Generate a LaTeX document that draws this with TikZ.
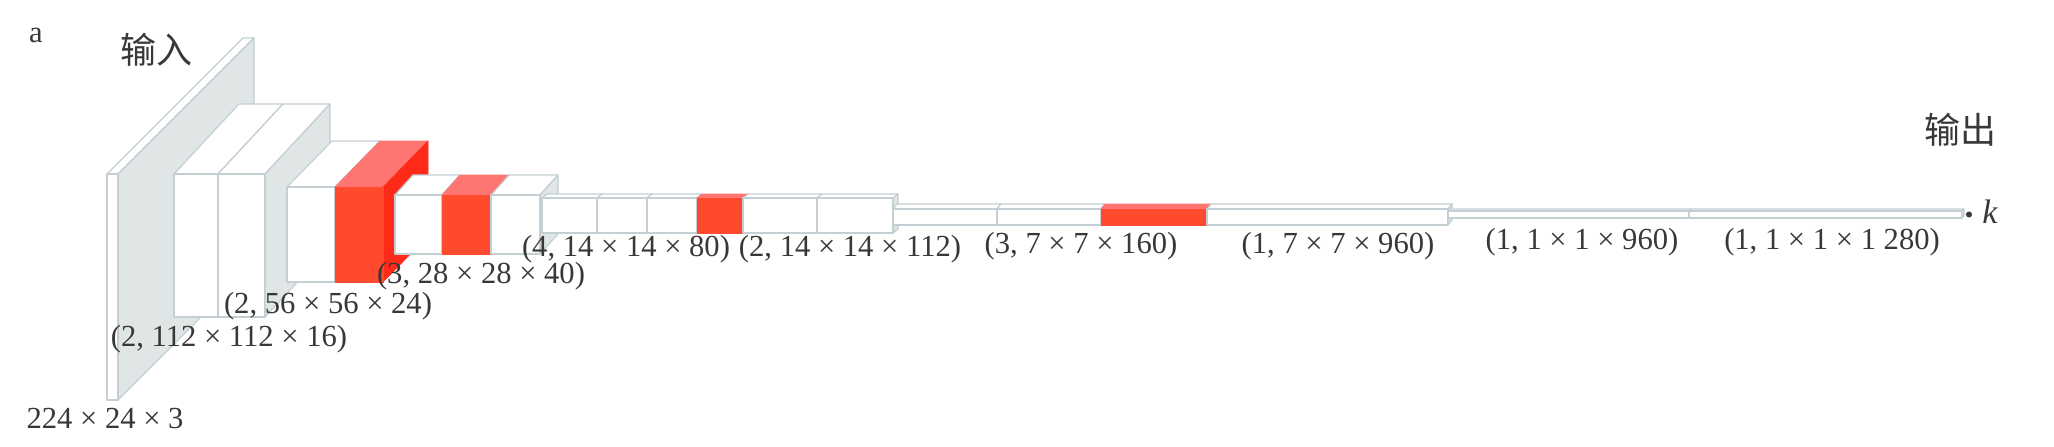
\documentclass[tikz,border=0pt]{standalone}
\usepackage{fontspec}
\setmainfont{Liberation Serif}
\newfontfamily\cjkfont{Noto Sans CJK SC}
\usetikzlibrary{arrows.meta}
\definecolor{edgec}{HTML}{C3CFD3}
\definecolor{sidec}{HTML}{E0E5E6}
\definecolor{redf}{HTML}{FF4A2D}
\definecolor{redt}{HTML}{FF7572}
\definecolor{reds}{HTML}{FF2B18}
\definecolor{txt}{HTML}{383838}
\tikzset{
  wtop/.style={fill=white, draw=edgec, line width=0.6pt, line join=round},
  wside/.style={fill=sidec, draw=edgec, line width=0.6pt, line join=round},
  wfront/.style={fill=white, draw=edgec, line width=0.6pt, line join=round},
  rtop/.style={fill=redt, draw=redt, line width=0.3pt},
  rside/.style={fill=reds, draw=reds, line width=0.3pt},
  rfront/.style={fill=redf, draw=redf, line width=0.3pt},
  lbl/.style={font=\fontsize{15.3}{18}\selectfont, text=txt, inner sep=0pt},
  cjk/.style={font=\cjkfont\fontsize{18}{20}\selectfont, text=txt, inner sep=0pt},
  kdot/.style={circle, fill=txt, inner sep=0pt, minimum size=3pt},
}
% #1 x-left, #2 x-right, #3 y-top, #4 y-bottom (px, downwards), #5 dx, #6 dy, #7 kind (w or r)
\newcommand{\blk}[7]{%
  \filldraw[#7top] (#1,#3) -- (#1+#5,#3-#6) -- (#2+#5,#3-#6) -- (#2,#3) -- cycle;
  \filldraw[#7side] (#2,#3) -- (#2+#5,#3-#6) -- (#2+#5,#4-#6) -- (#2,#4) -- cycle;
  \filldraw[#7front] (#1,#3) rectangle (#2,#4);}
\begin{document}
\begin{tikzpicture}[x=0.5pt,y=-0.5pt]
\useasboundingbox (0,0) rectangle (2054,446);
% input plate
\blk{107}{118}{174}{400}{136}{136}{w}
% block 1
\blk{174}{218}{174}{317}{65}{70}{w}
\blk{218}{265}{174}{317}{65}{70}{w}
% block 2
\blk{287}{335}{187}{282}{45}{46}{w}
\blk{335}{383}{187}{282}{45}{46}{r}
% block 3
\blk{395}{442}{195}{254}{18}{20}{w}
\blk{442}{491}{195}{254}{18}{20}{r}
\blk{491}{540}{195}{254}{18}{20}{w}
% block 4
\blk{542}{597}{198}{233}{5}{4}{w}
\blk{597}{647}{198}{233}{5}{4}{w}
\blk{647}{697}{198}{233}{5}{4}{w}
\blk{697}{743}{198}{233}{5}{4}{r}
% block 5
\blk{743}{817}{198}{233}{5}{4}{w}
\blk{817}{893}{198}{233}{5}{4}{w}
% block 6
\blk{893}{997}{209}{225}{4}{5}{w}
\blk{997}{1101}{209}{225}{4}{5}{w}
\blk{1101}{1207}{209}{225}{4}{5}{r}
% block 7
\blk{1207}{1448}{209}{225}{4}{5}{w}
% blocks 8, 9
\blk{1448}{1689}{211}{218}{2}{2}{w}
\blk{1689}{1962}{211}{218}{2}{2}{w}
% end of the chain
\coordinate (barend) at (1962,214.5);
\node[kdot] (dot) at (1969,214.5) {};
\draw[edgec, line width=0.6pt] (barend) -- (dot);
% labels
\node[lbl] (l0) at (105,419) {224 × 24 × 3};
\node[lbl] (l1) at (229,339) {(2, 112 × 112 × 16)};
\node[lbl] (l2) at (328,306) {(2, 56 × 56 × 24)};
\node[lbl] (l3) at (481,276) {(3, 28 × 28 × 40)};
\node[lbl] (l4) at (626,249) {(4, 14 × 14 × 80)};
\node[lbl] (l5) at (850,249) {(2, 14 × 14 × 112)};
\node[lbl] (l6) at (1081,246) {(3, 7 × 7 × 160)};
\node[lbl] (l7) at (1338,246) {(1, 7 × 7 × 960)};
\node[lbl] (l8) at (1582,242) {(1, 1 × 1 × 960)};
\node[lbl] (l9) at (1832,242) {(1, 1 × 1 × 1 280)};
\node[lbl] (a) at (36,35) {a};
\node[cjk] (in) at (156,50) {输入};
\node[cjk] (out) at (1960,130) {输出};
\node[lbl, font=\itshape\fontsize{17}{20}\selectfont] (k) at (1990,212) {k};
\end{tikzpicture}
\end{document}
